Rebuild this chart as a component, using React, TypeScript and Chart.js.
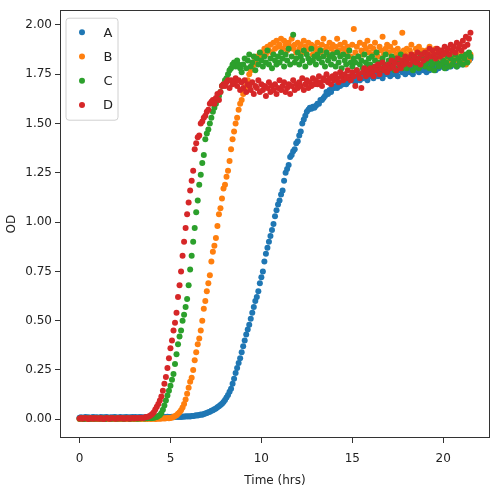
import React, { useEffect, useRef } from "react";
import { Chart, registerables } from "chart.js";

Chart.register(...registerables);

// time of each reading, in minutes
const TIME_MIN = [
  0, 5, 10, 15, 20, 25, 30, 35, 40, 45, 50, 55,
  60, 65, 70, 75, 80, 85, 90, 95, 100, 105, 110, 115,
  120, 125, 130, 135, 140, 145, 150, 155, 160, 165, 170, 175,
  180, 185, 190, 195, 200, 205, 210, 215, 220, 225, 230, 235,
  240, 245, 250, 255, 260, 265, 270, 275, 280, 285, 290, 295,
  300, 305, 310, 315, 320, 325, 330, 335, 340, 345, 350, 355,
  360, 365, 370, 375, 380, 385, 390, 395, 400, 405, 410, 415,
  420, 425, 430, 435, 440, 445, 450, 455, 460, 465, 470, 475,
  480, 485, 490, 495, 500, 505, 510, 515, 520, 525, 530, 535,
  540, 545, 550, 555, 560, 565, 570, 575, 580, 585, 590, 595,
  600, 605, 610, 615, 620, 625, 630, 635, 640, 645, 650, 655,
  660, 665, 670, 675, 680, 685, 690, 695, 700, 705, 710, 715,
  720, 725, 730, 735, 740, 745, 750, 755, 760, 765, 770, 775,
  780, 785, 790, 795, 800, 805, 810, 815, 820, 825, 830, 835,
  840, 845, 850, 855, 860, 865, 870, 875, 880, 885, 890, 895,
  900, 905, 910, 915, 920, 925, 930, 935, 940, 945, 950, 955,
  960, 965, 970, 975, 980, 985, 990, 995, 1000, 1005, 1010, 1015,
  1020, 1025, 1030, 1035, 1040, 1045, 1050, 1055, 1060, 1065, 1070, 1075,
  1080, 1085, 1090, 1095, 1100, 1105, 1110, 1115, 1120, 1125, 1130, 1135,
  1140, 1145, 1150, 1155, 1160, 1165, 1170, 1175, 1180, 1185, 1190, 1195,
  1200, 1205, 1210, 1215, 1220, 1225, 1230, 1235, 1240, 1245, 1250, 1255,
  1260, 1265, 1270, 1275, 1280, 1285, 1290,
];

const OD_A = [
  0.008, 0.01, 0.007, 0.009, 0.011, 0.008, 0.01, 0.006, 0.009, 0.011, 0.008, 0.01,
  0.009, 0.007, 0.011, 0.008, 0.01, 0.009, 0.012, 0.007, 0.009, 0.01, 0.008, 0.011,
  0.01, 0.008, 0.009, 0.011, 0.007, 0.01, 0.009, 0.012, 0.008, 0.01, 0.009, 0.011,
  0.009, 0.011, 0.008, 0.01, 0.012, 0.009, 0.01, 0.008, 0.011, 0.009, 0.012, 0.01,
  0.011, 0.009, 0.01, 0.012, 0.01, 0.011, 0.009, 0.012, 0.01, 0.011, 0.013, 0.01,
  0.011, 0.013, 0.01, 0.012, 0.014, 0.011, 0.013, 0.012, 0.014, 0.013, 0.015, 0.014,
  0.015, 0.014, 0.017, 0.016, 0.018, 0.02, 0.019, 0.022, 0.024, 0.023, 0.027, 0.029,
  0.032, 0.035, 0.038, 0.043, 0.046, 0.051, 0.055, 0.061, 0.066, 0.072, 0.079, 0.088,
  0.098, 0.11, 0.123, 0.14, 0.155, 0.18, 0.205, 0.235, 0.26, 0.285, 0.31, 0.34,
  0.37, 0.4, 0.43, 0.455, 0.48, 0.51, 0.54, 0.57, 0.6, 0.62, 0.65, 0.69,
  0.72, 0.75, 0.8, 0.84, 0.87, 0.9, 0.93, 0.96, 0.99, 1.03, 1.06, 1.09,
  1.11, 1.14, 1.16, 1.21, 1.25, 1.27, 1.29, 1.33, 1.34, 1.36, 1.37, 1.4,
  1.41, 1.44, 1.46, 1.5, 1.52, 1.54, 1.56, 1.57, 1.58, 1.575, 1.585, 1.58,
  1.59, 1.6, 1.6, 1.62, 1.62, 1.63, 1.64, 1.66, 1.65, 1.67, 1.66, 1.68,
  1.68, 1.69, 1.68, 1.7, 1.69, 1.71, 1.7, 1.72, 1.7, 1.71, 1.73, 1.72,
  1.72, 1.74, 1.71, 1.73, 1.75, 1.72, 1.74, 1.73, 1.76, 1.74, 1.72, 1.75,
  1.74, 1.76, 1.73, 1.75, 1.77, 1.74, 1.76, 1.75, 1.73, 1.77, 1.75, 1.76,
  1.76, 1.74, 1.77, 1.75, 1.78, 1.76, 1.74, 1.77, 1.79, 1.76, 1.78, 1.75,
  1.77, 1.79, 1.76, 1.78, 1.75, 1.79, 1.77, 1.8, 1.76, 1.78, 1.79, 1.77,
  1.78, 1.76, 1.8, 1.77, 1.79, 1.81, 1.78, 1.77, 1.8, 1.78, 1.82, 1.79,
  1.79, 1.81, 1.78, 1.8, 1.82, 1.79, 1.81, 1.8, 1.83, 1.79, 1.81, 1.8,
  1.82, 1.8, 1.83, 1.81, 1.84, 1.82, 1.83,
];

const OD_B = [
  0.002, 0.004, 0.001, 0.003, 0.002, 0.004, 0.003, 0.001, 0.003, 0.002, 0.004, 0.002,
  0.003, 0.001, 0.004, 0.002, 0.003, 0.002, 0.004, 0.001, 0.003, 0.002, 0.003, 0.004,
  0.002, 0.003, 0.001, 0.004, 0.002, 0.003, 0.002, 0.004, 0.003, 0.001, 0.003, 0.002,
  0.003, 0.002, 0.004, 0.001, 0.003, 0.002, 0.004, 0.003, 0.002, 0.003, 0.004, 0.002,
  0.003, 0.004, 0.002, 0.003, 0.004, 0.003, 0.004, 0.005, 0.004, 0.005, 0.006, 0.005,
  0.007, 0.009, 0.012, 0.016, 0.021, 0.028, 0.036, 0.046, 0.06, 0.078, 0.1, 0.13,
  0.16, 0.19, 0.21, 0.25, 0.3, 0.34, 0.38, 0.41, 0.45, 0.5, 0.56, 0.6,
  0.65, 0.69, 0.73, 0.8, 0.85, 0.88, 0.92, 0.98, 1.04, 1.07, 1.12, 1.17,
  1.19, 1.23, 1.26, 1.31, 1.37, 1.42, 1.46, 1.5, 1.53, 1.57, 1.6, 1.62,
  1.65, 1.67, 1.69, 1.72, 1.75, 1.77, 1.79, 1.8, 1.82, 1.84, 1.83, 1.85,
  1.86, 1.84, 1.88, 1.85, 1.89, 1.87, 1.9, 1.86, 1.91, 1.88, 1.92, 1.89,
  1.9, 1.93, 1.88, 1.92, 1.9, 1.87, 1.91, 1.89, 1.93, 1.88, 1.9, 1.86,
  1.91, 1.88, 1.9, 1.86, 1.92, 1.89, 1.87, 1.91, 1.88, 1.9, 1.85, 1.89,
  1.87, 1.91, 1.88, 1.86, 1.9, 1.93, 1.87, 1.89, 1.85, 1.91, 1.88, 1.9,
  1.86, 1.89, 1.93, 1.87, 1.9, 1.85, 1.88, 1.91, 1.86, 1.89, 1.87, 1.84,
  1.9, 1.98, 1.86, 1.89, 1.84, 1.91, 1.87, 1.85, 1.9, 1.88, 1.92, 1.86,
  1.89, 1.85, 1.88, 1.91, 1.86, 1.84, 1.89, 1.87, 1.94, 1.85, 1.88, 1.9,
  1.86, 1.89, 1.84, 1.87, 1.91, 1.85, 1.88, 1.86, 1.83, 1.96, 1.87, 1.85,
  1.88, 1.84, 1.87, 1.9, 1.85, 1.83, 1.88, 1.86, 1.89, 1.84, 1.87, 1.85,
  1.83, 1.87, 1.85, 1.89, 1.84, 1.86, 1.82, 1.88, 1.85, 1.83, 1.87, 1.84,
  1.86, 1.83, 1.85, 1.82, 1.87, 1.84, 1.81, 1.86, 1.83, 1.85, 1.82, 1.84,
  1.81, 1.85, 1.83, 1.8, 1.84, 1.82, 1.85,
];

const OD_C = [
  0.003, 0.005, 0.004, 0.002, 0.006, 0.004, 0.005, 0.003, 0.004, 0.006, 0.003, 0.005,
  0.004, 0.006, 0.003, 0.005, 0.004, 0.002, 0.005, 0.006, 0.004, 0.003, 0.005, 0.004,
  0.005, 0.003, 0.006, 0.004, 0.005, 0.003, 0.004, 0.006, 0.005, 0.003, 0.004, 0.005,
  0.004, 0.006, 0.003, 0.005, 0.004, 0.006, 0.005, 0.004, 0.006, 0.005, 0.007, 0.006,
  0.007, 0.008, 0.01, 0.012, 0.016, 0.022, 0.032, 0.048, 0.07, 0.095, 0.12, 0.145,
  0.17, 0.2, 0.23, 0.28, 0.33, 0.38, 0.42, 0.45, 0.5, 0.53, 0.57, 0.61,
  0.68, 0.76, 0.83, 0.9, 0.97, 1.05, 1.11, 1.19, 1.24, 1.3, 1.34, 1.42,
  1.45, 1.47, 1.5, 1.53, 1.56, 1.58, 1.6, 1.62, 1.64, 1.66, 1.69, 1.7,
  1.72, 1.73, 1.75, 1.77, 1.78, 1.8, 1.81, 1.79, 1.82, 1.8, 1.78, 1.76,
  1.8, 1.83, 1.78, 1.82, 1.85, 1.79, 1.81, 1.84, 1.77, 1.83, 1.8, 1.86,
  1.82, 1.79, 1.84, 1.81, 1.87, 1.8, 1.83, 1.78, 1.85, 1.82, 1.8, 1.84,
  1.81, 1.86, 1.83, 1.79, 1.85, 1.82, 1.88, 1.8, 1.84, 1.95, 1.81, 1.83,
  1.86, 1.8, 1.84, 1.82, 1.87, 1.79, 1.85, 1.83, 1.81, 1.88, 1.82, 1.84,
  1.8, 1.85, 1.83, 1.87, 1.81, 1.84, 1.79, 1.86, 1.82, 1.84, 1.8, 1.85,
  1.83, 1.79, 1.86, 1.81, 1.84, 1.78, 1.85, 1.82, 1.8, 1.84, 1.87, 1.81,
  1.79, 1.83, 1.81, 1.77, 1.84, 1.8, 1.82, 1.78, 1.85, 1.81, 1.79, 1.83,
  1.8, 1.84, 1.78, 1.82, 1.86, 1.79, 1.81, 1.77, 1.83, 1.8, 1.85, 1.79,
  1.82, 1.78, 1.84, 1.8, 1.77, 1.83, 1.81, 1.79, 1.85, 1.78, 1.82, 1.8,
  1.78, 1.83, 1.8, 1.84, 1.77, 1.81, 1.79, 1.82, 1.78, 1.85, 1.8, 1.83,
  1.79, 1.81, 1.84, 1.78, 1.82, 1.8, 1.77, 1.83, 1.81, 1.79, 1.84, 1.8,
  1.82, 1.78, 1.81, 1.84, 1.79, 1.83, 1.8, 1.82, 1.85, 1.79, 1.83, 1.81,
  1.84, 1.8, 1.83, 1.85, 1.81, 1.86, 1.84,
];

const OD_D = [
  0.004, 0.006, 0.003, 0.005, 0.007, 0.004, 0.002, 0.006, 0.005, 0.003, 0.006, 0.004,
  0.005, 0.003, 0.006, 0.004, 0.002, 0.005, 0.007, 0.004, 0.003, 0.006, 0.005, 0.004,
  0.003, 0.006, 0.004, 0.005, 0.007, 0.003, 0.005, 0.004, 0.006, 0.003, 0.005, 0.006,
  0.004, 0.006, 0.005, 0.007, 0.006, 0.008, 0.007, 0.009, 0.011, 0.013, 0.015, 0.02,
  0.027, 0.036, 0.05, 0.063, 0.078, 0.095, 0.115, 0.145, 0.18, 0.215, 0.26, 0.31,
  0.36, 0.4, 0.45, 0.49, 0.54, 0.62, 0.68, 0.75, 0.83, 0.9, 0.97, 1.04,
  1.1, 1.16, 1.21, 1.26, 1.37, 1.4, 1.43, 1.44, 1.5, 1.51, 1.53, 1.54,
  1.56, 1.57, 1.6, 1.61, 1.62, 1.6, 1.63, 1.65, 1.62, 1.66, 1.69, 1.7,
  1.69, 1.71, 1.72, 1.68, 1.72, 1.7, 1.71, 1.73, 1.69, 1.72, 1.67, 1.71,
  1.68, 1.72, 1.66, 1.7, 1.69, 1.67, 1.71, 1.65, 1.69, 1.68, 1.72, 1.66,
  1.7, 1.67, 1.69, 1.64, 1.68, 1.71, 1.66, 1.69, 1.67, 1.7, 1.65, 1.68,
  1.72, 1.67, 1.69, 1.71, 1.66, 1.68, 1.7, 1.65, 1.69, 1.72, 1.67, 1.7,
  1.68, 1.71, 1.69, 1.73, 1.67, 1.7, 1.72, 1.68, 1.71, 1.69, 1.73, 1.7,
  1.72, 1.7, 1.74, 1.71, 1.69, 1.73, 1.72, 1.75, 1.71, 1.73, 1.7, 1.74,
  1.72, 1.75, 1.73, 1.71, 1.76, 1.74, 1.72, 1.75, 1.73, 1.77, 1.74, 1.72,
  1.76, 1.74, 1.69, 1.77, 1.75, 1.73, 1.68, 1.76, 1.78, 1.74, 1.77, 1.75,
  1.78, 1.76, 1.74, 1.79, 1.77, 1.8, 1.75, 1.78, 1.81, 1.77, 1.79, 1.76,
  1.8, 1.78, 1.82, 1.79, 1.81, 1.77, 1.83, 1.8, 1.78, 1.82, 1.8, 1.84,
  1.81, 1.83, 1.8, 1.85, 1.82, 1.84, 1.81, 1.86, 1.83, 1.8, 1.85, 1.82,
  1.86, 1.83, 1.85, 1.88, 1.84, 1.87, 1.85, 1.83, 1.88, 1.86, 1.84, 1.87,
  1.85, 1.89, 1.86, 1.88, 1.85, 1.9, 1.87, 1.89, 1.86, 1.91, 1.88, 1.9,
  1.87, 1.92, 1.89, 1.94, 1.9, 1.93, 1.96,
];

const SERIES_LABELS = ["A", "B", "C", "D"];
const SERIES_COLORS = ["#1f77b4", "#ff7f0e", "#2ca02c", "#d62728"];
const X_TICKS = [0, 5, 10, 15, 20];
const Y_TICKS = [0, 0.25, 0.5, 0.75, 1.0, 1.25, 1.5, 1.75, 2.0];

const FONT = "DejaVu Sans";

const framePlugin = {
  id: "frameAndLegend",
  afterDatasetsDraw(chart: any) {
    const { ctx, chartArea } = chart;
    ctx.save();
    ctx.strokeStyle = "#333";
    ctx.lineWidth = 1;
    ctx.strokeRect(
      Math.round(chartArea.left) + 0.5,
      Math.round(chartArea.top) + 0.5,
      Math.round(chartArea.right - chartArea.left) - 1,
      Math.round(chartArea.bottom - chartArea.top) - 1
    );
    ctx.restore();
  },
  afterDraw(chart: any) {
    const { ctx, chartArea } = chart;
    const datasets = chart.data.datasets;
    const bx = chartArea.left + 6;
    const by = chartArea.top + 8;
    const bw = 52;
    const bh = 102;
    ctx.save();
    ctx.beginPath();
    const r = 3;
    ctx.moveTo(bx + r, by);
    ctx.lineTo(bx + bw - r, by);
    ctx.quadraticCurveTo(bx + bw, by, bx + bw, by + r);
    ctx.lineTo(bx + bw, by + bh - r);
    ctx.quadraticCurveTo(bx + bw, by + bh, bx + bw - r, by + bh);
    ctx.lineTo(bx + r, by + bh);
    ctx.quadraticCurveTo(bx, by + bh, bx, by + bh - r);
    ctx.lineTo(bx, by + r);
    ctx.quadraticCurveTo(bx, by, bx + r, by);
    ctx.closePath();
    ctx.fillStyle = "rgba(255,255,255,0.8)";
    ctx.fill();
    ctx.strokeStyle = "#d0d0d0";
    ctx.lineWidth = 1;
    ctx.stroke();
    ctx.font = `13px "${FONT}"`;
    ctx.textAlign = "center";
    ctx.textBaseline = "middle";
    datasets.forEach((ds: any, i: number) => {
      const cy = by + 14 + i * 24.3;
      ctx.beginPath();
      ctx.arc(bx + 16, cy, 3, 0, Math.PI * 2);
      ctx.fillStyle = ds.backgroundColor;
      ctx.fill();
      ctx.fillStyle = "#222";
      ctx.fillText(ds.label, bx + 42, cy + 1);
    });
    ctx.restore();
  },
};

export default function App() {
  const canvasRef = useRef<HTMLCanvasElement | null>(null);

  useEffect(() => {
    if (!canvasRef.current) return;
    const seriesValues = [OD_A, OD_B, OD_C, OD_D];
    const datasets = seriesValues.map((vals, k) => ({
      label: SERIES_LABELS[k],
      data: TIME_MIN.map((m, i) => ({ x: m / 60, y: vals[i] })),
      backgroundColor: SERIES_COLORS[k],
      borderColor: SERIES_COLORS[k],
      pointRadius: 3,
      pointBorderWidth: 0,
      pointHoverRadius: 3,
      showLine: false,
      order: 4 - k,
    }));

    const chart = new Chart(canvasRef.current, {
      type: "scatter",
      data: { datasets },
      plugins: [framePlugin],
      options: {
        animation: false,
        responsive: true,
        maintainAspectRatio: false,
        layout: { padding: { left: 0, top: 7, right: 10, bottom: 0 } },
        plugins: {
          legend: { display: false },
          tooltip: { enabled: false },
        },
        scales: {
          x: {
            type: "linear",
            min: -1.075,
            max: 22.575,
            afterFit: (s: any) => {
              s.height = 62;
            },
            afterBuildTicks: (s: any) => {
              s.ticks = X_TICKS.map((v) => ({ value: v }));
            },
            grid: {
              drawOnChartArea: false,
              drawTicks: true,
              tickLength: 5,
              color: "#333",
            },
            border: { display: false },
            ticks: {
              padding: 9,
              color: "#222",
              font: { family: FONT, size: 12 },
              callback: (v: any) => String(v),
            },
            title: {
              display: true,
              text: "Time (hrs)",
              color: "#222",
              font: { family: FONT, size: 12 },
              padding: { top: 4, bottom: 12 },
            },
          },
          y: {
            type: "linear",
            min: -0.095,
            max: 2.075,
            afterFit: (s: any) => {
              s.width = 60;
            },
            afterBuildTicks: (s: any) => {
              s.ticks = Y_TICKS.map((v) => ({ value: v }));
            },
            grid: {
              drawOnChartArea: false,
              drawTicks: true,
              tickLength: 5,
              color: "#333",
            },
            border: { display: false },
            ticks: {
              padding: 3,
              color: "#222",
              font: { family: FONT, size: 12 },
              callback: (v: any) => Number(v).toFixed(2),
            },
            title: {
              display: true,
              text: "OD",
              color: "#222",
              font: { family: FONT, size: 12 },
              padding: { top: 5, bottom: 0 },
            },
          },
        },
      },
    });
    return () => chart.destroy();
  }, []);

  return (
    <div
      style={{
        position: "fixed",
        left: 0,
        top: 0,
        width: 500,
        height: 500,
        background: "#fff",
      }}
    >
      <canvas ref={canvasRef} />
    </div>
  );
}
